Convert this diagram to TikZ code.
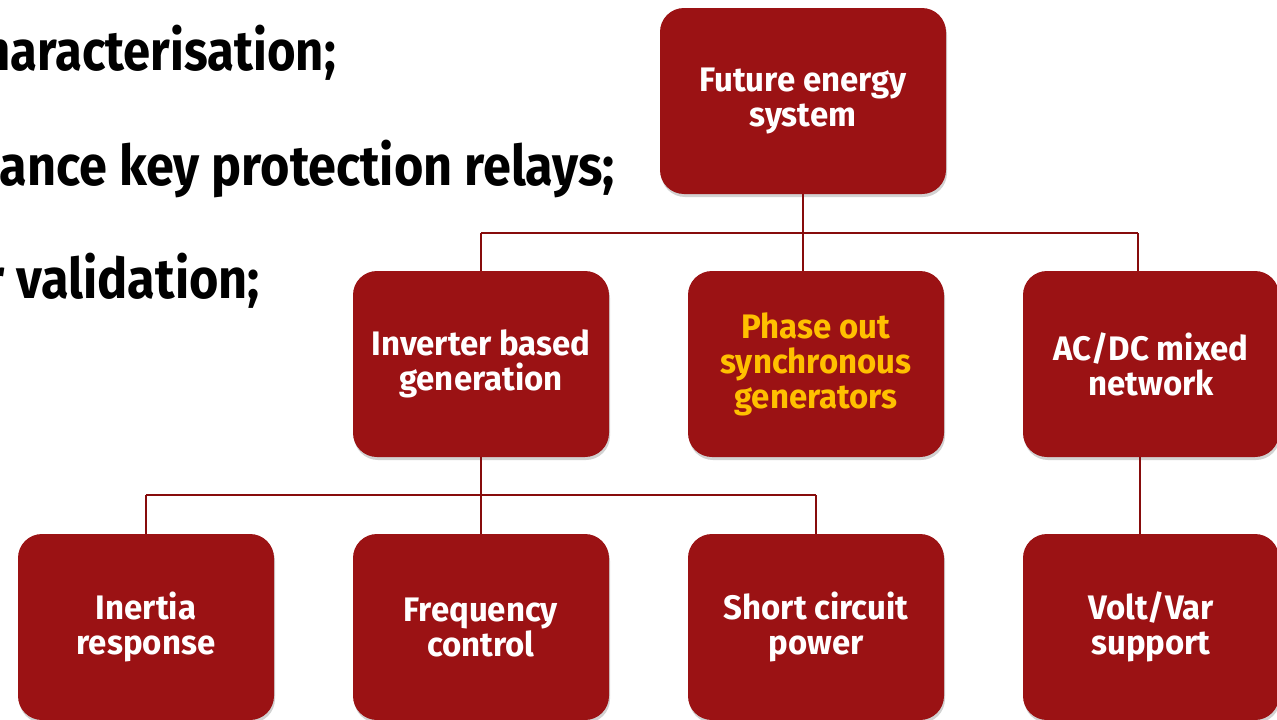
\documentclass[tikz,border=0pt]{standalone}
\usepackage{fontspec}
\setmainfont{Fira Sans}
\newfontfamily\boxfont{Fira Sans}[FakeStretch=0.97]
\newfontfamily\leftfont{Fira Sans}[FakeStretch=0.9]
\newfontfamily\leftfontn{Fira Sans}[FakeStretch=0.875]
\usetikzlibrary{shadows}
\definecolor{boxred}{RGB}{155,18,20}
\definecolor{linered}{RGB}{135,12,12}
\definecolor{txtyellow}{RGB}{255,192,0}
\tikzset{
  box/.style={rectangle, rounded corners=24pt, fill=boxred, inner sep=0pt,
    minimum width=256pt, minimum height=186pt, text=white, align=center,
    font=\boxfont\fontsize{34}{35}\selectfont\bfseries,
    drop shadow={opacity=0.35, shadow xshift=1pt, shadow yshift=-3pt}},
  conn/.style={draw=linered, line width=1.5pt},
  trunk/.style={draw=linered, line width=2.5pt},
  lefttext/.style={anchor=base east, inner sep=0pt,
    font=\leftfont\fontsize{56}{60}\selectfont\bfseries, text=black}
}
\begin{document}
\begin{tikzpicture}[x=1pt,y=-1pt]
\useasboundingbox (0,0) rectangle (1277,720);
\clip (0,0) rectangle (1277,720);
\fill[white] (0,0) rectangle (1277,720);
% left text
\node[lefttext, font=\leftfontn\fontsize{56}{60}\selectfont\bfseries] (t1) at (336,70) {haracterisation;};
\node[lefttext] (t2) at (615,185) {ance key protection relays;};
\node[lefttext] (t3) at (260,298) {r validation;};
% connector coordinates
\coordinate (j1) at (803,233);
\coordinate (j1l) at (481,233);
\coordinate (j1r) at (1138,233);
\coordinate (j2) at (481,495);
\coordinate (j2l) at (146,495);
\coordinate (j2r) at (816,495);
% boxes
\node[box, minimum width=286pt] (top) at (803,101) {Future energy\\system};
\node[box] (inv) at (481,364) {Inverter based\\generation};
\node[box, text=txtyellow] (phase) at (816,364) {Phase out\\synchronous\\generators};
\node[box] (acdc) at (1151,364) {AC/DC mixed\\network};
\node[box] (inert) at (146,627) {Inertia\\response};
\node[box] (freq) at (481,627) {Frequency\\control};
\node[box] (short) at (816,627) {Short circuit\\power};
\node[box] (volt) at (1151,627) {Volt/Var\\support};
% connectors
\draw[trunk] (top.south) -- (j1);
\draw[conn] (j1l) -- (j1r);
\draw[conn] (j1l) -- (j1l |- inv.north);
\draw[conn] (j1) -- (j1 |- phase.north);
\draw[conn] (j1r) -- (j1r |- acdc.north);
\draw[trunk] (inv.south) -- (j2);
\draw[conn] (j2l) -- (j2r);
\draw[conn] (j2l) -- (j2l |- inert.north);
\draw[conn] (j2) -- (j2 |- freq.north);
\draw[conn] (j2r) -- (j2r |- short.north);
\draw[conn] (acdc.south -| 1140,0) -- (volt.north -| 1140,0);
\end{tikzpicture}
\end{document}
